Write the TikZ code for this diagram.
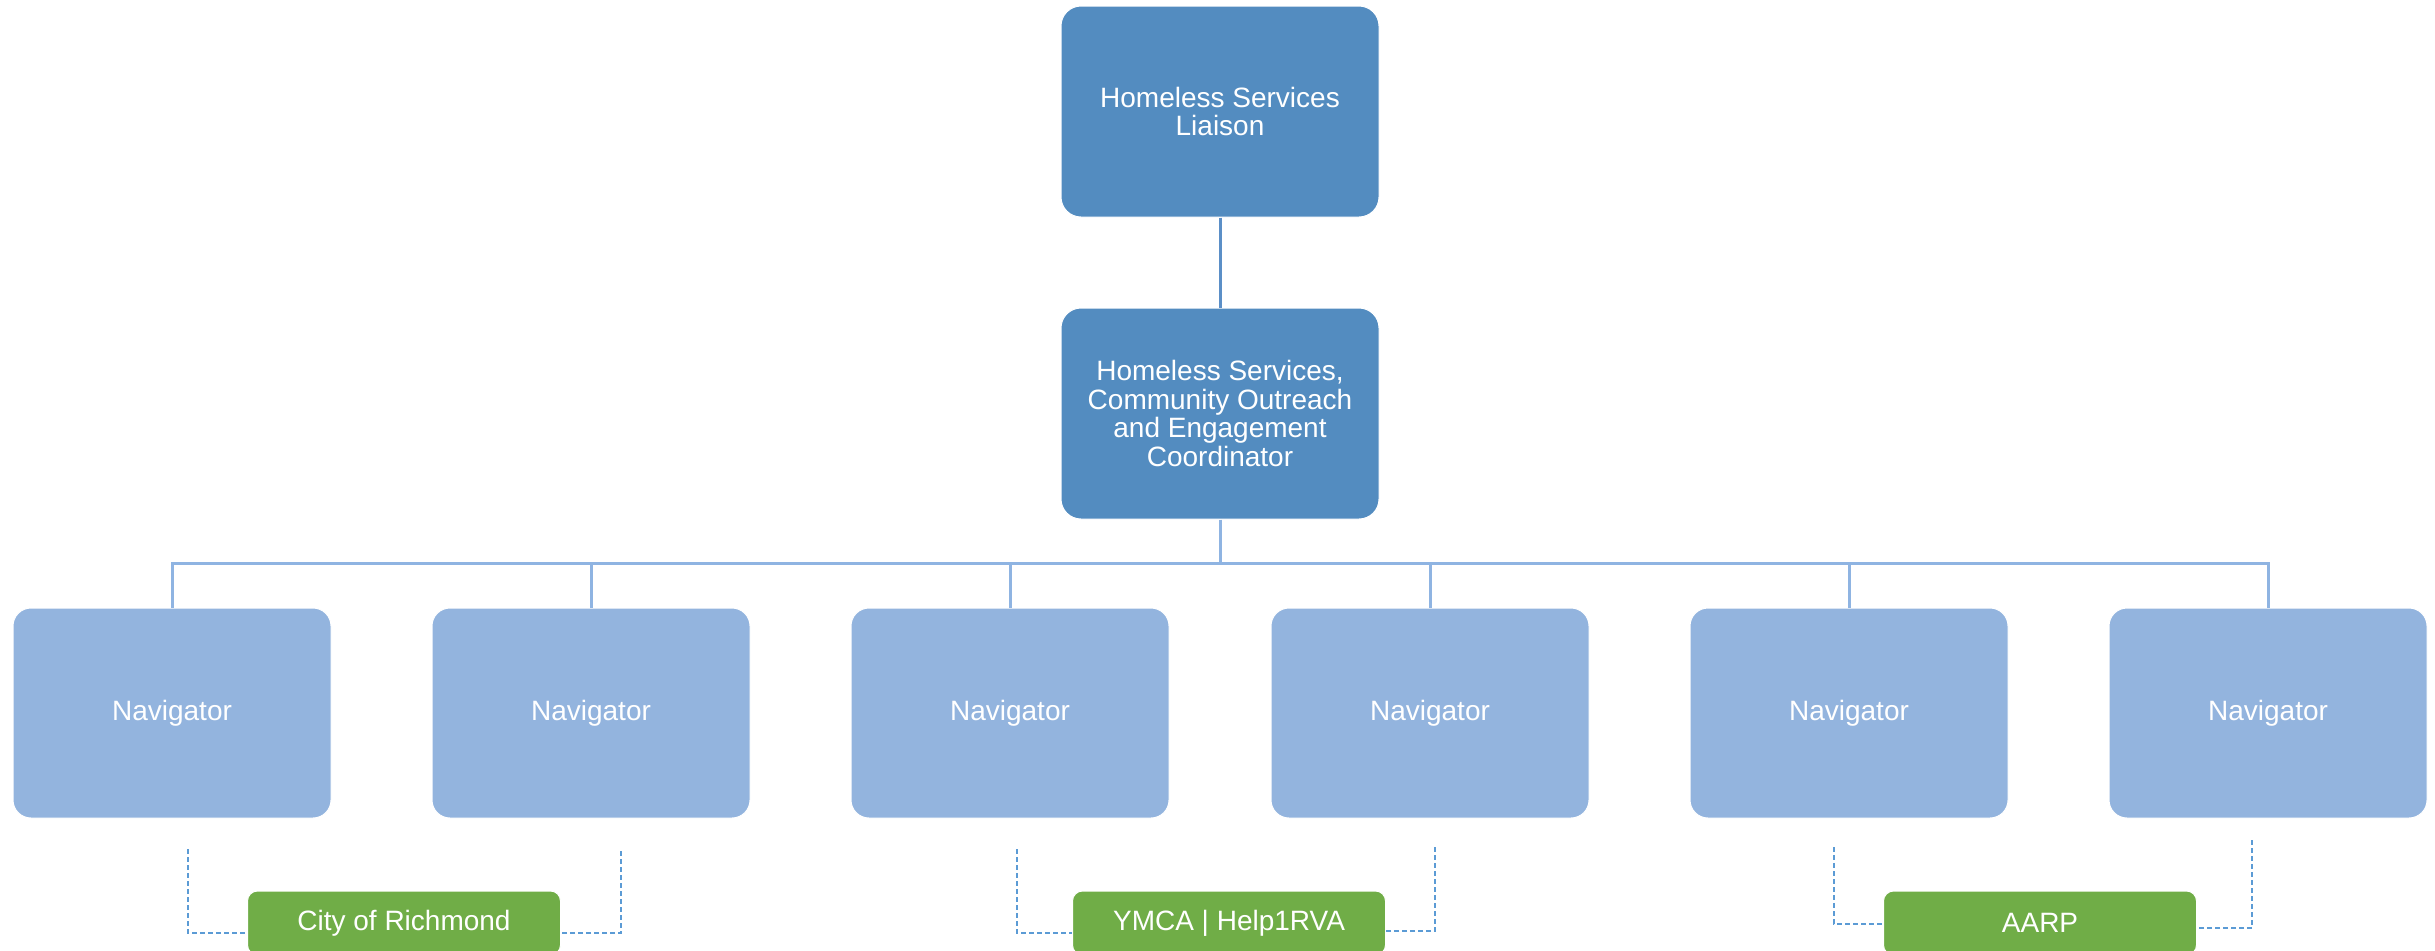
\documentclass[tikz,border=0pt]{standalone}
\usepackage{fontspec}
\setmainfont{Liberation Sans}
\usetikzlibrary{positioning}

\definecolor{headblue}{RGB}{83,140,192}
\definecolor{navblue}{RGB}{147,180,222}
\definecolor{partnergreen}{RGB}{112,173,71}
\definecolor{linkblue}{RGB}{91,143,199}
\definecolor{busblue}{RGB}{143,180,226}
\definecolor{dashblue}{RGB}{91,155,213}

\begin{document}
\begin{tikzpicture}[x=0.5pt,y=-0.5pt,font=\fontsize{14}{14.3}\selectfont,
  head node/.style={rectangle,rounded corners=10pt,fill=headblue,draw=white,line width=0.5pt,
    text=white,align=center,minimum width=159pt,minimum height=105.5pt,inner sep=0pt},
  nav node/.style={head node,fill=navblue,rounded corners=9pt,minimum height=105pt},
  partner node/.style={rectangle,rounded corners=5pt,fill=partnergreen,draw=white,line width=0.5pt,
    text=white,minimum width=156.5pt,minimum height=32pt,inner sep=0pt},
  link/.style={draw=linkblue,line width=1.5pt},
  bus/.style={draw=busblue,line width=1.5pt},
  partner link/.style={draw=dashblue,line width=0.75pt,dash pattern=on 2.5pt off 1.5pt}]

  \useasboundingbox (0,0) rectangle (2435,950);
  \clip (0,0) rectangle (2435,950);

  \node[head node] (liaison) at (1220,111.5) {Homeless Services\\Liaison};
  \node[head node] (coord) [below=45pt of liaison] {Homeless Services,\\Community Outreach\\and Engagement\\Coordinator};

  \node[nav node] (nav1) at (172,713) {Navigator};
  \node[nav node] (nav2) at (591,713) {Navigator};
  \node[nav node] (nav3) at (1010,713) {Navigator};
  \node[nav node] (nav4) at (1430,713) {Navigator};
  \node[nav node] (nav5) at (1849,713) {Navigator};
  \node[nav node] (nav6) at (2268,713) {Navigator};

  \node[partner node] (richmond) at (404,923) {City of Richmond};
  \node[partner node] (ymca) at (1229,923) {YMCA | Help1RVA};
  \node[partner node] (aarp) at (2040,923) {AARP};

  % reporting lines
  \coordinate (bus) at (1220,563);
  \draw[link] (liaison) -- (coord);
  \draw[bus] (coord) -- (bus);
  \draw[bus] (bus) -| (nav1);
  \draw[bus] (bus) -| (nav2);
  \draw[bus] (bus) -| (nav3);
  \draw[bus] (bus) -| (nav4);
  \draw[bus] (bus) -| (nav5);
  \draw[bus] (bus) -| (nav6);

  % partner links
  \coordinate (rich l) at (188,849);
  \coordinate (rich r) at (621,851);
  \coordinate (ymca l) at (1017,849);
  \coordinate (ymca r) at (1435,847);
  \coordinate (aarp l) at (1834,847);
  \coordinate (aarp r) at (2252,840);
  \draw[partner link] (rich l) |- ([yshift=-5pt]richmond.west);
  \draw[partner link] (rich r) |- ([yshift=-5pt]richmond.east);
  \draw[partner link] (ymca l) |- ([yshift=-5pt]ymca.west);
  \draw[partner link] (ymca r) |- ([yshift=-4pt]ymca.east);
  \draw[partner link] (aarp l) |- ([yshift=-0.5pt]aarp.west);
  \draw[partner link] (aarp r) |- ([yshift=-2.5pt]aarp.east);

\end{tikzpicture}
\end{document}
